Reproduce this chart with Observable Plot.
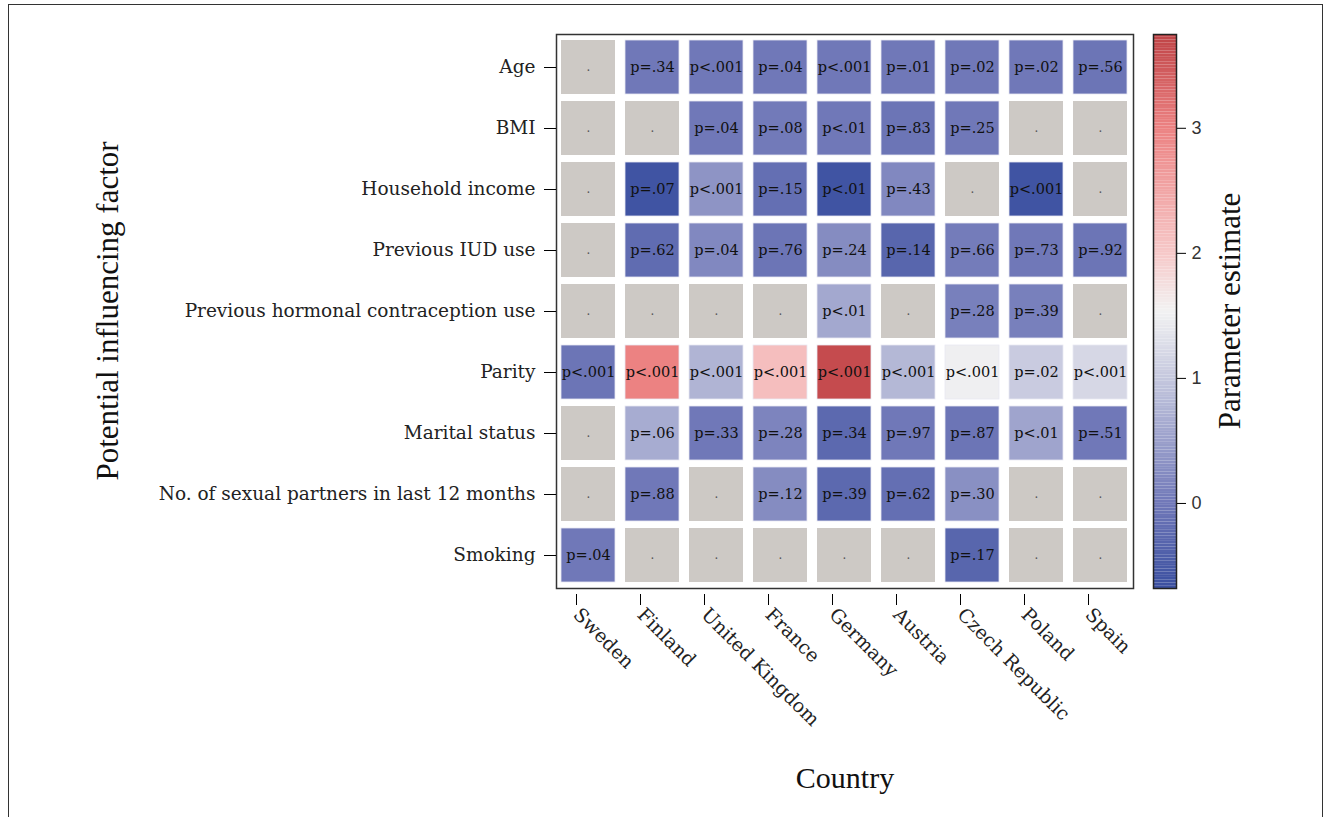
<!DOCTYPE html>
<html><head><meta charset="utf-8">
<script src="https://cdn.jsdelivr.net/npm/d3@7"></script>
<script src="https://cdn.jsdelivr.net/npm/@observablehq/plot@0.6"></script>
<style>
body{margin:0;background:#fff;}
#wrap{position:relative;width:1325px;height:817px;overflow:hidden;background:#fff;}
#border{position:absolute;left:8px;top:4px;width:1315px;height:840px;border:1px solid #333;box-sizing:border-box;}
.title{position:absolute;font-family:"Liberation Serif",serif;font-size:30px;color:#111;white-space:nowrap;line-height:1;}
#main,#bar{position:absolute;top:0;}
#main{left:0;} #bar{left:1100px;}
</style></head><body>
<div id="wrap">
<div id="border"></div>
<div id="main"></div>
<div id="bar"></div>
<div class="title" id="xt" style="left:845px;top:778px;transform:translate(-50%,-50%);">Country</div>
<div class="title" id="yt" style="left:107px;top:311px;font-size:31px;transform:translate(-50%,-50%) rotate(-90deg);">Potential influencing factor</div>
<div class="title" id="ct" style="left:1229px;top:311px;font-size:31px;transform:translate(-50%,-50%) rotate(-90deg);">Parameter estimate</div>
</div>
<script>
const countries = ["Sweden","Finland","United Kingdom","France","Germany","Austria","Czech Republic","Poland","Spain"];
const factors = ["Age","BMI","Household income","Previous IUD use","Previous hormonal contraception use","Parity","Marital status","No. of sexual partners in last 12 months","Smoking"];

// Parameter estimates (null = not in model), one array per factor, in country order
const estAge       = [null, 0.0, 0.0, 0.0, 0.0, 0.0, 0.0, 0.0, -0.05];
const estBMI       = [null, null, 0.0, 0.02, 0.0, -0.05, 0.0, null, null];
const estIncome    = [null, -0.6, 0.35, -0.15, -0.6, 0.2, null, -0.6, null];
const estIUD       = [null, -0.2, 0.2, -0.05, 0.25, -0.3, 0.05, 0.0, -0.05];
const estHormonal  = [null, null, null, null, 0.6, null, 0.1, 0.1, null];
const estParity    = [-0.05, 3.0, 0.75, 2.15, 3.65, 0.8, 1.5, 1.05, 1.2];
const estMarital   = [null, 0.65, 0.0, 0.15, -0.25, 0.0, -0.05, 0.55, 0.0];
const estPartners  = [null, 0.0, null, 0.25, -0.25, -0.15, 0.3, null, null];
const estSmoking   = [0.0, null, null, null, null, null, -0.3, null, null];

// p-value labels
const pAge      = [".","p=.34","p<.001","p=.04","p<.001","p=.01","p=.02","p=.02","p=.56"];
const pBMI      = [".",".","p=.04","p=.08","p<.01","p=.83","p=.25",".","."];
const pIncome   = [".","p=.07","p<.001","p=.15","p<.01","p=.43",".","p<.001","."];
const pIUD      = [".","p=.62","p=.04","p=.76","p=.24","p=.14","p=.66","p=.73","p=.92"];
const pHormonal = [".",".",".",".","p<.01",".","p=.28","p=.39","."];
const pParity   = ["p<.001","p<.001","p<.001","p<.001","p<.001","p<.001","p<.001","p=.02","p<.001"];
const pMarital  = [".","p=.06","p=.33","p=.28","p=.34","p=.97","p=.87","p<.01","p=.51"];
const pPartners = [".","p=.88",".","p=.12","p=.39","p=.62","p=.30",".","."];
const pSmoking  = ["p=.04",".",".",".",".",".","p=.17",".","."];

const colorTicks = [0, 1, 2, 3];
const colorDomain = [-0.68, 3.75];

const estRows = [estAge, estBMI, estIncome, estIUD, estHormonal, estParity, estMarital, estPartners, estSmoking];
const pRows = [pAge, pBMI, pIncome, pIUD, pHormonal, pParity, pMarital, pPartners, pSmoking];

const data = [];
factors.forEach((f, i) => countries.forEach((c, j) => {
  data.push({factor: f, country: c, est: estRows[i][j], p: pRows[i][j]});
}));

const mid = (colorDomain[0] + colorDomain[1]) / 2;
const colorOpts = {type: "linear",
  domain: [colorDomain[0], 0, mid, 2.0, 3.0, colorDomain[1]],
  range: ["#3a4fa0", "#7078b8", "#f2f2f2", "#f6c8c8", "#ec8282", "#bf4346"],
  interpolate: "rgb", clamp: true};

const main = Plot.plot({
  width: 1325, height: 817,
  marginLeft: 556, marginRight: 192, marginTop: 34, marginBottom: 229,
  style: {background: "transparent"},
  x: {domain: countries, paddingInner: 0.15, paddingOuter: 0.03, label: null},
  y: {domain: factors, paddingInner: 0.12, paddingOuter: 0.1, label: null},
  color: colorOpts,
  marks: [
    Plot.cell(data, {x: "country", y: "factor", fill: "#cdc9c5"}),
    Plot.cell(data.filter(d => d.est != null), {x: "country", y: "factor", fill: "est", stroke: "#e8e8f2", strokeWidth: 0.8}),
    Plot.text(data.filter(d => d.est != null), {x: "country", y: "factor", text: "p", fontFamily: "DejaVu Serif", fontSize: 14.5, fill: "#111"}),
    Plot.text(data.filter(d => d.est == null), {x: "country", y: "factor", text: "p", fontFamily: "DejaVu Serif", fontSize: 12, fill: "#555"}),
    Plot.frame({stroke: "#333", strokeWidth: 1.5}),
    Plot.axisY({tickSize: 12, tickPadding: 9, fontSize: 18.5, fontFamily: "DejaVu Serif", fill: "#222", label: null}),
    Plot.axisX({tickSize: 11, tickPadding: 6, tickRotate: 45, fontSize: 19, fontFamily: "DejaVu Serif", fill: "#222", dx: -12, dy: 6, label: null})
  ]
});
document.getElementById("main").appendChild(main);

// vertical colour bar built from the same colour scale
const nSteps = 200;
const stepSize = (colorDomain[1] - colorDomain[0]) / nSteps;
const steps = d3.range(nSteps).map(i => ({lo: colorDomain[0] + i * stepSize, hi: colorDomain[0] + (i + 1) * stepSize}));
const bar = Plot.plot({
  width: 220, height: 817,
  marginLeft: 53, marginRight: 144, marginTop: 34, marginBottom: 229,
  style: {background: "transparent"},
  x: {domain: [0, 1], axis: null},
  y: {domain: colorDomain, label: null},
  color: colorOpts,
  marks: [
    Plot.rect(steps, {x1: 0, x2: 1, y1: "lo", y2: "hi", fill: d => (d.lo + d.hi) / 2}),
    Plot.frame({stroke: "#222", strokeWidth: 1.5}),
    Plot.axisY({anchor: "right", ticks: colorTicks, tickFormat: "d", tickSize: 9, tickPadding: 6, fontSize: 18, fontFamily: "Liberation Sans", fill: "#333", label: null})
  ]
});
document.getElementById("bar").appendChild(bar);
</script>
</body></html>
